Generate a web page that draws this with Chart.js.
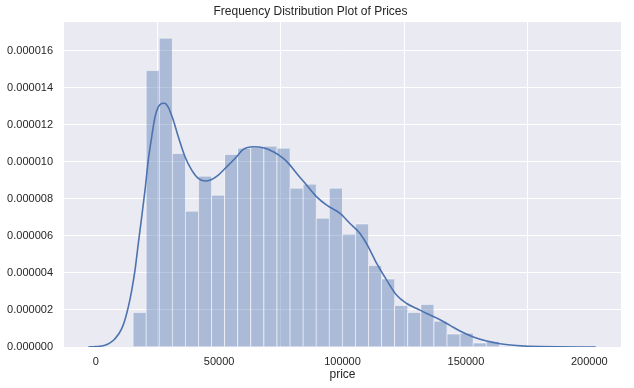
<!DOCTYPE html>
<html>
<head>
<meta charset="utf-8">
<script src="https://cdn.jsdelivr.net/npm/chart.js@4/dist/chart.umd.min.js"></script>
<style>
html,body{margin:0;padding:0;background:#fff;}
#wrap{width:634px;height:388px;position:relative;}
</style>
</head>
<body>
<div id="wrap"><canvas id="c" width="634" height="388"></canvas></div>
<script>
const titleText = "Frequency Distribution Plot of Prices";
const xAxisLabel = "price";

const binCenters = [17650, 22950, 28250, 33550, 38850, 44150, 49450, 54750, 60050, 65350,
  70650, 75950, 81250, 86550, 91850, 97150, 102450, 107750, 113050, 118350,
  123650, 128950, 134250, 139550, 144850, 150150, 155450, 160750];
const binDensity = [1.89e-6, 1.496e-5, 1.670e-5, 1.047e-5, 7.35e-6, 9.24e-6, 8.22e-6, 1.042e-5, 1.076e-5, 1.081e-5,
  1.086e-5, 1.076e-5, 8.59e-6, 8.81e-6, 6.97e-6, 8.59e-6, 6.11e-6, 6.67e-6, 4.43e-6, 3.70e-6,
  2.27e-6, 1.89e-6, 2.32e-6, 1.41e-6, 7.2e-7, 7.6e-7, 2.4e-7, 3.2e-7];

const kdeX = [-3000, 0, 3770, 5790, 7820, 10540, 12560, 14590, 15920, 17260, 18640, 19980, 21310, 22690,
  24030, 25370, 27390, 27800, 29420, 31440, 33470, 36180, 38900, 41570, 44290, 47000, 49680, 52390,
  56440, 59810, 63860, 67910, 71960, 76020, 78730, 81450, 85500, 89550, 93600, 98990, 103040, 107090,
  110460, 113860, 117910, 121970, 126020, 130070, 134120, 139510, 143560, 147610, 153000, 158430,
  163820, 170590, 180030, 202600];
const kdeY = [0, 2e-8, 9e-8, 2.2e-7, 4.5e-7, 9.9e-7, 1.81e-6, 3.06e-6, 4.15e-6, 5.59e-6, 7.03e-6, 8.47e-6,
  1.009e-5, 1.135e-5, 1.243e-5, 1.297e-5, 1.316e-5, 1.316e-5, 1.294e-5, 1.225e-5, 1.135e-5, 1.027e-5,
  9.55e-6, 9.10e-6, 8.96e-6, 9.05e-6, 9.28e-6, 9.64e-6, 1.018e-5, 1.067e-5, 1.081e-5, 1.076e-5,
  1.054e-5, 1.018e-5, 9.82e-6, 9.37e-6, 8.74e-6, 8.11e-6, 7.66e-6, 7.21e-6, 6.67e-6, 6.13e-6, 5.41e-6,
  4.51e-6, 3.61e-6, 2.79e-6, 2.35e-6, 2.08e-6, 1.81e-6, 1.47e-6, 1.17e-6, 8.6e-7, 5.4e-7, 3.2e-7,
  1.8e-7, 8e-8, 2e-8, 0];

const xTicks = [0, 50000, 100000, 150000, 200000];
const yTicks = [0, 0.000002, 0.000004, 0.000006, 0.000008, 0.000010, 0.000012, 0.000014, 0.000016];

const FONT = "'Liberation Sans', Arial, sans-serif";
const TEXT = '#262626';

const bgPlugin = {
  id: 'plotBg',
  beforeDraw(chart) {
    const {ctx, chartArea: a} = chart;
    ctx.save();
    ctx.fillStyle = '#eaeaf2';
    ctx.fillRect(a.left, a.top, a.right - a.left, a.bottom - a.top);
    ctx.restore();
  }
};

new Chart(document.getElementById('c'), {
  type: 'bar',
  data: {
    datasets: [
      {
        type: 'line',
        data: kdeX.map((x, i) => ({x: x, y: kdeY[i]})),
        borderColor: '#4c72b0',
        borderWidth: 1.6,
        pointRadius: 0,
        fill: false,
        cubicInterpolationMode: 'monotone',
        order: 0
      },
      {
        type: 'bar',
        data: binCenters.map((x, i) => ({x: x, y: binDensity[i]})),
        backgroundColor: 'rgba(76,114,176,0.4)',
        borderColor: 'rgba(255,255,255,0.45)',
        borderWidth: {left: 1, right: 0, top: 1, bottom: 0},
        borderSkipped: false,
        categoryPercentage: 1.0,
        barPercentage: 1.0,
        order: 1
      }
    ]
  },
  options: {
    responsive: false,
    animation: false,
    devicePixelRatio: 1,
    layout: {padding: {left: 0, right: 13, top: 0, bottom: 0}},
    plugins: {
      legend: {display: false},
      tooltip: {enabled: false},
      title: {
        display: true,
        text: titleText,
        color: TEXT,
        font: {family: FONT, size: 12, weight: 'normal'},
        padding: {top: 4, bottom: 3.6}
      }
    },
    scales: {
      x: {
        type: 'linear',
        min: -12850,
        max: 212850,
        offset: false,
        afterBuildTicks: (s) => { s.ticks = xTicks.map(v => ({value: v})); },
        afterFit: (s) => { s.height = 41; },
        ticks: {
          color: TEXT,
          font: {family: FONT, size: 11},
          padding: 8,
          maxRotation: 0,
          autoSkip: false,
          callback: (v) => String(v)
        },
        grid: {color: '#ffffff', lineWidth: 1, drawTicks: false},
        border: {display: false},
        title: {
          display: true,
          text: xAxisLabel,
          color: TEXT,
          font: {family: FONT, size: 12},
          padding: {top: 0, bottom: 6}
        }
      },
      y: {
        type: 'linear',
        min: 0,
        max: 0.00001755,
        afterBuildTicks: (s) => { s.ticks = yTicks.map(v => ({value: v})); },
        afterFit: (s) => { s.width = 64; },
        ticks: {
          color: TEXT,
          font: {family: FONT, size: 11},
          padding: 11,
          autoSkip: false,
          callback: (v) => Number(v).toFixed(6)
        },
        grid: {color: '#ffffff', lineWidth: 1, drawTicks: false},
        border: {display: false}
      }
    }
  },
  plugins: [bgPlugin]
});
</script>
</body>
</html>
